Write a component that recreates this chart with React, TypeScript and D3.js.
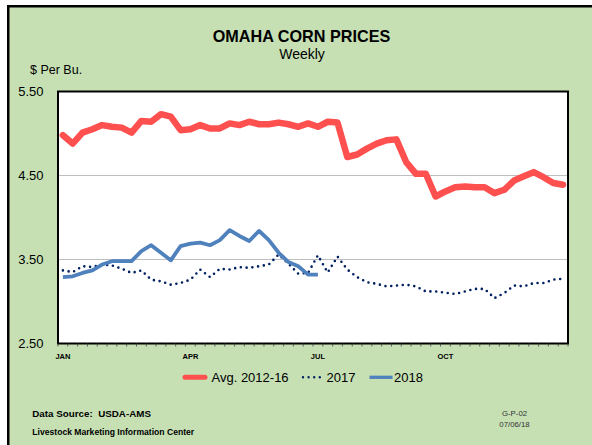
import * as d3 from 'd3';

// weekly values, Jan..Dec (52 weeks)
const WEEKS = d3.range(52);
const AVG_2012_16 = [
  4.98, 4.88, 5.01, 5.05, 5.10, 5.08, 5.07, 5.01, 5.15, 5.14, 5.23, 5.20, 5.04,
  5.05, 5.10, 5.06, 5.06, 5.12, 5.10, 5.14, 5.11, 5.11, 5.13, 5.11, 5.08, 5.12,
  5.08, 5.14, 5.13, 4.72, 4.75, 4.82, 4.88, 4.92, 4.93, 4.66, 4.52, 4.52, 4.25,
  4.31, 4.36, 4.37, 4.36, 4.36, 4.29, 4.33, 4.44, 4.49, 4.54, 4.48, 4.41, 4.39
];
const Y2017 = [
  3.37, 3.35, 3.42, 3.41, 3.44, 3.43, 3.39, 3.34, 3.37, 3.26, 3.24, 3.20, 3.22,
  3.26, 3.38, 3.29, 3.39, 3.38, 3.41, 3.40, 3.42, 3.44, 3.56, 3.45, 3.33, 3.34,
  3.55, 3.345, 3.535, 3.38, 3.29, 3.23, 3.21, 3.18, 3.19, 3.20, 3.18, 3.12, 3.12,
  3.105, 3.09, 3.12, 3.15, 3.15, 3.04, 3.10, 3.19, 3.18, 3.22, 3.22, 3.26, 3.27
];
const Y2018 = [
  3.29, 3.30, 3.34, 3.37, 3.44, 3.48, 3.48, 3.48, 3.60, 3.67, 3.58, 3.49, 3.66,
  3.69, 3.70, 3.67, 3.73, 3.85, 3.78, 3.72, 3.84, 3.73, 3.58, 3.47, 3.42, 3.32,
  3.32
];
const Y_TICKS = [2.5, 3.5, 4.5, 5.5];
const MONTH_LABELS = ['JAN', 'APR', 'JUL', 'OCT'];
const MONTH_WEEKS = [0, 13, 26, 39];

const W = 592;
const H = 445;
const plot = { left: 58, top: 91.5, right: 568, bottom: 343.5 };
const FONT = '"Liberation Sans", Arial, sans-serif';
const RED = '#FF5050';
const BLUE = '#4F81BD';
const NAVY = '#002060';

export default function App() {
  const x = d3.scaleBand<number>().domain(WEEKS).range([plot.left, plot.right]).paddingInner(0);
  const y = d3.scaleLinear().domain([2.5, 5.5]).range([plot.bottom, plot.top]);
  const cx = (i: number) => (x(i) as number) + x.bandwidth() / 2;

  const line = d3.line<number>()
    .x((d, i) => cx(i))
    .y((d) => y(d));

  const tickXs = WEEKS.map((i) => x(i) as number).concat([plot.right]);

  return (
    <svg width={W} height={H} style={{ position: 'absolute', left: 0, top: 0 }} fontFamily={FONT}>
      <rect x={0} y={0} width={W} height={H} fill="#fff" />
      <rect x={8.25} y={6.25} width={700} height={600} fill="#C6E0B4" stroke="#000" strokeWidth={2.5} />

      <text x={301.5} y={41.5} textAnchor="middle" fontSize={16.2} fontWeight="bold">OMAHA CORN PRICES</text>
      <text x={302} y={58.5} textAnchor="middle" fontSize={14}>Weekly</text>
      <text x={30} y={74} fontSize={12.5}>$ Per Bu.</text>

      <rect x={plot.left} y={plot.top} width={plot.right - plot.left} height={plot.bottom - plot.top} fill="#fff" />

      {/* gridlines */}
      {Y_TICKS.filter((t) => t > 2.5 && t < 5.5).map((t) => (
        <line key={t} x1={plot.left} x2={plot.right} y1={y(t)} y2={y(t)} stroke="#BFBFBF" strokeWidth={1} />
      ))}

      {/* y tick labels */}
      {Y_TICKS.map((t) => (
        <text key={t} x={43.5} y={y(t)} dy="0.35em" textAnchor="end" fontSize={13}>{d3.format('.2f')(t)}</text>
      ))}

      {/* series */}
      <path d={line(AVG_2012_16) || ''} fill="none" stroke={RED} strokeWidth={6.5} strokeLinejoin="round" strokeLinecap="round" />
      <path d={line(Y2017) || ''} fill="none" stroke={NAVY} strokeWidth={2.6} strokeDasharray="0 5.8" strokeLinecap="round" />
      <path d={line(Y2018) || ''} fill="none" stroke={BLUE} strokeWidth={3.8} strokeLinejoin="round" />

      {/* plot frame */}
      <rect x={plot.left} y={plot.top} width={plot.right - plot.left} height={plot.bottom - plot.top} fill="none" stroke="#000" strokeWidth={2} />

      {/* x ticks */}
      {tickXs.map((tx, i) => (
        <line key={i} x1={tx} x2={tx} y1={plot.bottom} y2={plot.bottom + 3} stroke="#404040" strokeWidth={0.8} />
      ))}
      {MONTH_LABELS.map((m, i) => (
        <text key={m} x={cx(MONTH_WEEKS[i])} y={359} textAnchor="middle" fontSize={7.5} fontWeight="bold">{m}</text>
      ))}

      {/* legend */}
      <line x1={185} x2={205} y1={377.3} y2={377.3} stroke={RED} strokeWidth={5} strokeLinecap="round" />
      <text x={211.5} y={381.7} fontSize={13}>Avg. 2012-16</text>
      <line x1={303} x2={325} y1={377.3} y2={377.3} stroke={NAVY} strokeWidth={2.4} strokeDasharray="0 5.6" strokeLinecap="round" />
      <text x={326.5} y={381.7} fontSize={13}>2017</text>
      <line x1={369.5} x2={392.5} y1={377.3} y2={377.3} stroke={BLUE} strokeWidth={3.3} />
      <text x={394} y={381.7} fontSize={13}>2018</text>

      {/* footer */}
      <text x={32.3} y={417.3} fontSize={9.8} fontWeight="bold" style={{ whiteSpace: 'pre' }}>Data Source:  USDA-AMS</text>
      <text x={32.3} y={435} fontSize={8.6} fontWeight="bold">Livestock Marketing Information Center</text>
      <text x={514.5} y={415.7} textAnchor="middle" fontSize={7.8} fill="#333">G-P-02</text>
      <text x={514.5} y={426.7} textAnchor="middle" fontSize={7.8} fill="#333">07/06/18</text>
    </svg>
  );
}
